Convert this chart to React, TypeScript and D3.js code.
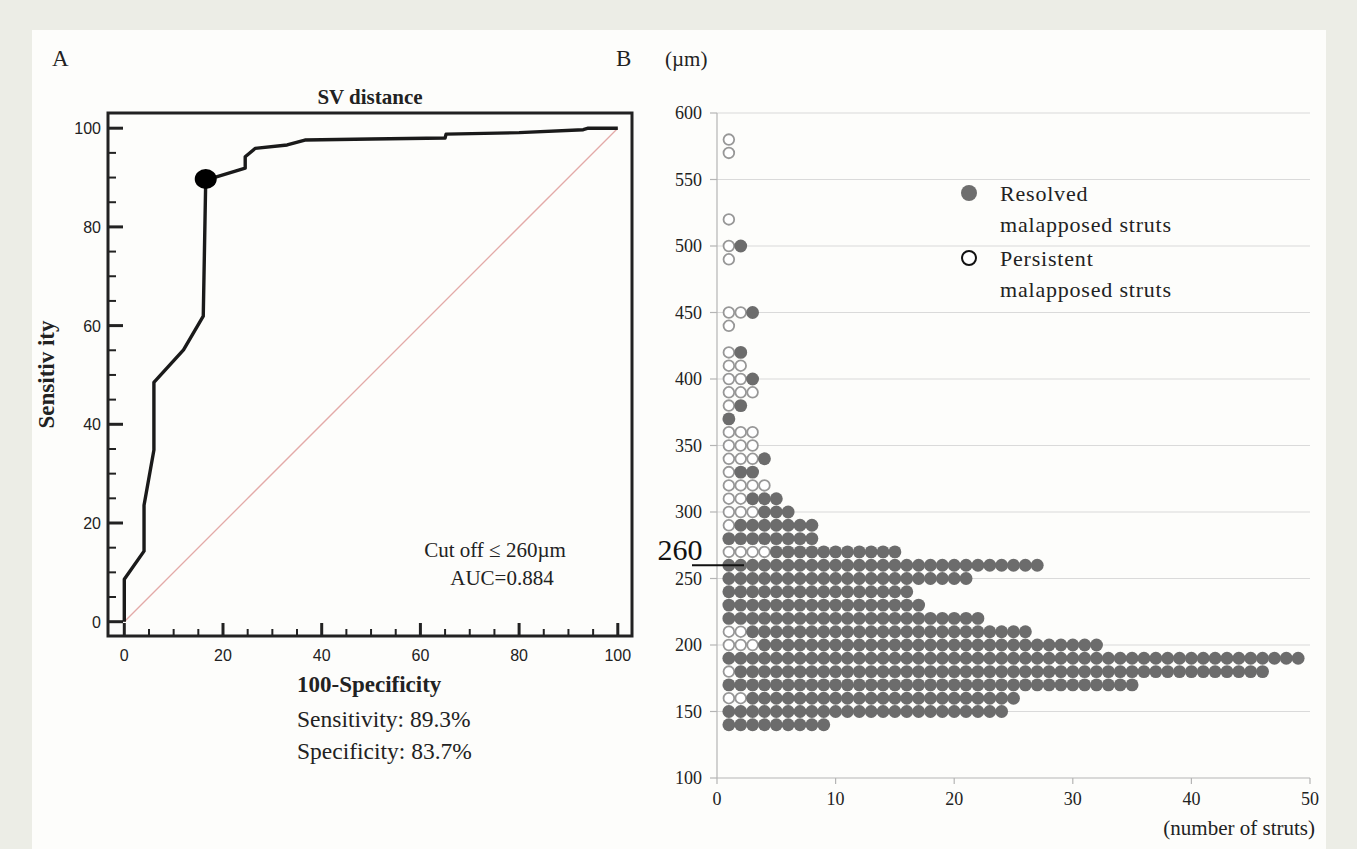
import React from 'react';
import * as d3 from 'd3';

// panel A: ROC curve for SV distance (100-specificity, sensitivity)
const rocFpr = [0, 0, 4, 4, 6, 6, 12, 16, 16.5, 24.5, 24.5, 26.5, 33, 36.6, 50, 65, 65.2, 80, 93, 94, 100];
const rocTpr = [0, 8.6, 14.3, 23.6, 34.8, 48.5, 55.1, 61.9, 89.5, 91.9, 94.2, 95.9, 96.6, 97.6, 97.8, 98.0, 98.8, 99.1, 99.7, 100, 100];
const cutPoint = { fpr: 16.5, tpr: 89.7 };
const rocTicks = [0, 20, 40, 60, 80, 100];

// panel B: strut counts per 10 um distance bin
const distances = [580, 570, 520, 500, 490, 450, 440, 420, 410, 400, 390, 380, 370, 360, 350, 340, 330, 320, 310, 300, 290, 280, 270, 260, 250, 240, 230, 220, 210, 200, 190, 180, 170, 160, 150, 140];
const persistent = [1, 1, 1, 1, 1, 2, 1, 1, 2, 2, 3, 1, 0, 3, 3, 3, 1, 4, 2, 3, 1, 0, 4, 0, 0, 0, 0, 0, 2, 3, 0, 1, 0, 2, 0, 0];
const resolved = [0, 0, 0, 1, 0, 1, 0, 1, 0, 1, 0, 1, 1, 0, 0, 1, 2, 0, 3, 3, 7, 8, 11, 27, 21, 16, 17, 22, 24, 29, 49, 45, 35, 23, 24, 9];
const umTicks = [100, 150, 200, 250, 300, 350, 400, 450, 500, 550, 600];
const countTicks = [0, 10, 20, 30, 40, 50];

const serif = '"Liberation Serif", "Times New Roman", serif';
const sans = '"Liberation Sans", Arial, sans-serif';

export default function App() {
  // ROC scales
  const xA = d3.scaleLinear().domain([0, 100]).range([124.3, 617.8]);
  const yA = d3.scaleLinear().domain([0, 100]).range([621.7, 128.2]);
  const box = { x0: 108, x1: 632, y0: 113, y1: 636 };
  const rocLine = d3
    .line<number>()
    .x((d) => xA(d))
    .y((d, i) => yA(rocTpr[i]))(rocFpr);
  const minorA = d3.range(0, 101, 5).filter((v) => v % 20 !== 0);

  // dot plot scales
  const xB = d3.scaleLinear().domain([0, 50]).range([717, 1310]);
  const yB = d3.scaleLinear().domain([100, 600]).range([778, 113]);
  const step = xB(1) - xB(0);

  const dots: { x: number; y: number; open: boolean }[] = [];
  distances.forEach((d, i) => {
    const total = persistent[i] + resolved[i];
    for (let k = 1; k <= total; k++) {
      dots.push({ x: xB(k), y: yB(d), open: k <= persistent[i] });
    }
  });

  return (
    <svg
      width={1357}
      height={849}
      style={{ position: 'absolute', left: 0, top: 0 }}
    >
      <rect x={0} y={0} width={1357} height={849} fill="#ecede6" />
      <rect x={32} y={30} width={1294} height={819} fill="#fdfdfb" />

      {/* panel A */}
      <text x={52} y={66} fontFamily={serif} fontSize={23} fill="#222">A</text>
      <text x={370} y={104} fontFamily={serif} fontSize={21} fontWeight="bold" textAnchor="middle" fill="#222">
        SV distance
      </text>
      <line x1={xA(0)} y1={yA(0)} x2={xA(100)} y2={yA(100)} stroke="#e3aaa8" strokeWidth={1.3} />
      <rect x={box.x0} y={box.y0} width={box.x1 - box.x0} height={box.y1 - box.y0} fill="none" stroke="#222" strokeWidth={3} />
      {rocTicks.map((t) => (
        <g key={'ay' + t}>
          <line x1={box.x0} x2={box.x0 + 15} y1={yA(t)} y2={yA(t)} stroke="#222" strokeWidth={3} />
          <text x={box.x0 - 7} y={yA(t) + 6} fontFamily={sans} fontSize={16} textAnchor="end" fill="#222">{t}</text>
          <line x1={xA(t)} x2={xA(t)} y1={box.y1} y2={box.y1 - 13} stroke="#222" strokeWidth={3} />
          <text x={xA(t)} y={box.y1 + 25} fontFamily={sans} fontSize={16} textAnchor="middle" fill="#222">{t}</text>
        </g>
      ))}
      {minorA.map((t) => (
        <g key={'am' + t}>
          <line x1={box.x0} x2={box.x0 + 8} y1={yA(t)} y2={yA(t)} stroke="#222" strokeWidth={2} />
          <line x1={xA(t)} x2={xA(t)} y1={box.y1} y2={box.y1 - 7} stroke="#222" strokeWidth={2} />
        </g>
      ))}
      <path d={rocLine ?? ''} fill="none" stroke="#1a1a1a" strokeWidth={3.4} strokeLinejoin="round" />
      <ellipse cx={xA(cutPoint.fpr)} cy={yA(cutPoint.tpr)} rx={11} ry={10} fill="#000" />
      <text
        transform={`translate(54,${(box.y0 + box.y1) / 2}) rotate(-90)`}
        fontFamily={serif}
        fontSize={23}
        fontWeight="bold"
        textAnchor="middle"
        fill="#222"
      >
        Sensitiv ity
      </text>
      <text x={495} y={557} fontFamily={serif} fontSize={21} textAnchor="middle" fill="#222">Cut off ≤ 260µm</text>
      <text x={502} y={585} fontFamily={serif} fontSize={21} textAnchor="middle" fill="#222">AUC=0.884</text>
      <text x={297} y={692} fontFamily={serif} fontSize={23} fontWeight="bold" fill="#222">100-Specificity</text>
      <text x={297} y={727} fontFamily={serif} fontSize={23.5} fill="#222">Sensitivity: 89.3%</text>
      <text x={297} y={759} fontFamily={serif} fontSize={23.5} fill="#222">Specificity: 83.7%</text>

      {/* panel B */}
      <text x={616} y={66} fontFamily={serif} fontSize={23} fill="#222">B</text>
      <text x={665} y={66} fontFamily={serif} fontSize={21} fill="#222">(µm)</text>
      {umTicks.map((t) => (
        <g key={'by' + t}>
          {t > 100 && <line x1={xB(0)} x2={xB(50)} y1={yB(t)} y2={yB(t)} stroke="#dadada" strokeWidth={1.2} />}
          <line x1={xB(0) - 7} x2={xB(0)} y1={yB(t)} y2={yB(t)} stroke="#b5b5b5" strokeWidth={1.2} />
          <text x={702} y={yB(t) + 6} fontFamily={serif} fontSize={18} textAnchor="end" fill="#222">{t}</text>
        </g>
      ))}
      <line x1={xB(0)} x2={xB(0)} y1={yB(600)} y2={yB(100)} stroke="#b5b5b5" strokeWidth={1.2} />
      <line x1={xB(0)} x2={xB(50)} y1={yB(100)} y2={yB(100)} stroke="#b5b5b5" strokeWidth={1.2} />
      {countTicks.map((t) => (
        <g key={'bx' + t}>
          <line x1={xB(t)} x2={xB(t)} y1={yB(100)} y2={yB(100) + 6} stroke="#b5b5b5" strokeWidth={1.2} />
          <text x={xB(t)} y={805} fontFamily={serif} fontSize={18} textAnchor="middle" fill="#222">{t}</text>
        </g>
      ))}
      <text x={1315} y={835} fontFamily={serif} fontSize={21} textAnchor="end" fill="#222">(number of struts)</text>

      {dots.map((d, i) =>
        d.open ? (
          <circle key={i} cx={d.x} cy={d.y} r={step / 2 - 0.6} fill="#fff" stroke="#979797" strokeWidth={1.8} />
        ) : (
          <circle key={i} cx={d.x} cy={d.y} r={step / 2 + 0.5} fill="#6c6c6c" />
        ),
      )}

      <line x1={692} x2={744} y1={yB(260)} y2={yB(260)} stroke="#111" strokeWidth={2} />
      <text x={680} y={560} fontFamily={serif} fontSize={30} textAnchor="middle" fill="#111">260</text>

      {/* legend */}
      <circle cx={969} cy={193} r={8} fill="#6e6e6e" />
      <text x={1000} y={201} fontFamily={serif} fontSize={22} letterSpacing={0.8} fill="#222">Resolved</text>
      <text x={1000} y={232} fontFamily={serif} fontSize={22} letterSpacing={0.8} fill="#222">malapposed struts</text>
      <circle cx={969} cy={258} r={7} fill="#fff" stroke="#111" strokeWidth={2} />
      <text x={1000} y={266} fontFamily={serif} fontSize={22} letterSpacing={0.8} fill="#222">Persistent</text>
      <text x={1000} y={297} fontFamily={serif} fontSize={22} letterSpacing={0.8} fill="#222">malapposed struts</text>
    </svg>
  );
}
